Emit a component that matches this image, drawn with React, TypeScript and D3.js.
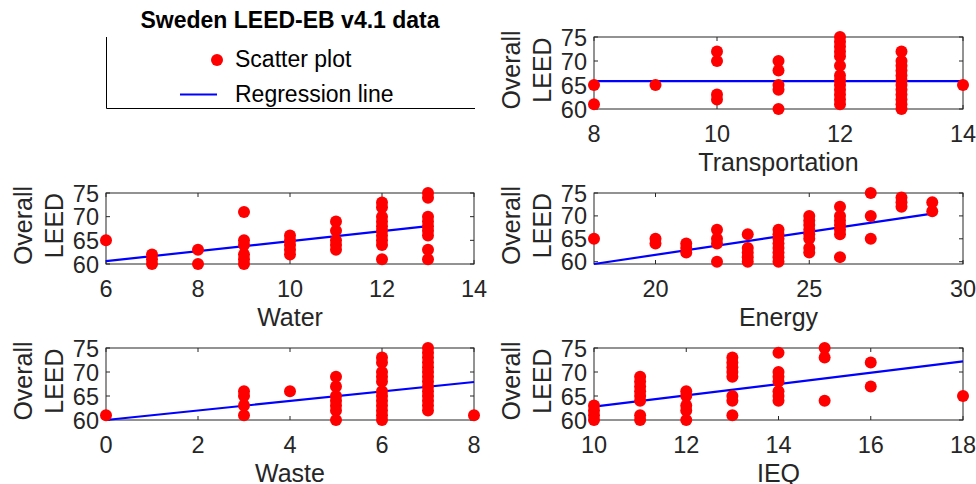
import React from "react";
import * as d3 from "d3";

// ---------- data (x value -> Overall LEED scores at that x) ----------
const transportationData: [number, number[]][] = [
  [8, [65, 61]],
  [9, [65]],
  [10, [72, 70, 63, 62]],
  [11, [70, 68, 65, 64, 60]],
  [12, [75, 74, 73, 72, 71, 69, 67, 66, 65, 64, 63, 62, 61]],
  [13, [72, 70, 69, 68, 67, 66, 65, 64, 63, 62, 61, 60]],
  [14, [65]],
];
const waterData: [number, number[]][] = [
  [6, [65]],
  [7, [62, 61, 60]],
  [8, [63, 60]],
  [9, [71, 65, 64, 62, 61, 60]],
  [10, [66, 65, 64, 63, 62]],
  [11, [69, 67, 65, 64, 63]],
  [12, [73, 72, 70, 69, 68, 67, 66, 65, 64, 61]],
  [13, [75, 74, 70, 69, 68, 67, 66, 63, 61]],
];
const energyData: [number, number[]][] = [
  [18, [65]],
  [20, [65, 64]],
  [21, [64, 63, 62]],
  [22, [67, 65, 64, 60]],
  [23, [66, 63, 62, 61, 60]],
  [24, [67, 66, 65, 64, 63, 62, 61, 60]],
  [25, [70, 69, 68, 67, 66, 65, 63, 62]],
  [26, [72, 70, 69, 68, 67, 66, 61]],
  [27, [75, 70, 65]],
  [28, [74, 73, 72]],
  [29, [73, 71]],
];
const wasteData: [number, number[]][] = [
  [0, [61]],
  [3, [66, 65, 63, 61]],
  [4, [66]],
  [5, [69, 67, 65, 64, 63, 62, 60]],
  [6, [73, 72, 70, 69, 68, 66, 65, 64, 63, 62, 61, 60]],
  [7, [75, 74, 73, 72, 71, 70, 69, 68, 67, 66, 65, 64, 63, 62]],
  [8, [61]],
];
const ieqData: [number, number[]][] = [
  [10, [63, 62, 61, 60]],
  [11, [69, 68, 67, 66, 65, 64, 61, 60]],
  [12, [66, 65, 63, 62, 60]],
  [13, [73, 72, 71, 70, 69, 65, 64, 61]],
  [14, [74, 70, 69, 68, 66, 65, 64]],
  [15, [75, 73, 64]],
  [16, [72, 67]],
  [18, [65]],
];

// regression line coefficients [slope, intercept]
const transportationFit = [0, 65.8];
const waterFit = [1.057, 54.26];
const energyFit = [1.0, 41.5];
const wasteFit = [0.99, 60.0];
const ieqFit = [1.175, 51.05];

// axis settings
const transportationXTicks = [8, 10, 12, 14];
const waterXTicks = [6, 8, 10, 12, 14];
const energyXTicks = [20, 25, 30];
const wasteXTicks = [0, 2, 4, 6, 8];
const ieqXTicks = [10, 12, 14, 16, 18];
const yTicks = [60, 65, 70, 75];

const titleText = "Sweden LEED-EB v4.1 data";
const legendLabels = ["Scatter plot", "Regression line"];
const yLabelLines = ["Overall", "LEED"];

const FONT = '"Liberation Sans", Arial, Helvetica, sans-serif';
const AX = "#262626";
const RED = "#ff0000";
const BLUE = "#0000ff";

type PanelProps = {
  box: [number, number, number, number];
  data: [number, number[]][];
  fit: number[];
  xDomain: [number, number];
  yDomain: [number, number];
  xTicks: number[];
  xLabel: string;
};

function Panel({ box, data, fit, xDomain, yDomain, xTicks, xLabel }: PanelProps) {
  const [x0, x1, y0, y1] = box;
  const x = d3.scaleLinear().domain(xDomain).range([x0, x1]);
  const y = d3.scaleLinear().domain(yDomain).range([y1, y0]);
  const pts = data.flatMap(([xv, ys]) => ys.map((yv) => [xv, yv] as [number, number]));
  const xs = data.map((d) => d[0]);
  const xmin = d3.min(xs)!;
  const xmax = d3.max(xs)!;
  const line = d3.line<number>().x((v) => x(v)).y((v) => y(fit[0] * v + fit[1]));
  const tl = 4;
  const cy = (y0 + y1) / 2 - 3;
  return (
    <g>
      <rect x={x0} y={y0} width={x1 - x0} height={y1 - y0} fill="white" stroke={AX} strokeWidth={1} />
      {xTicks.map((t) => (
        <g key={"x" + t}>
          <line x1={x(t)} x2={x(t)} y1={y1} y2={y1 - tl} stroke={AX} />
          <line x1={x(t)} x2={x(t)} y1={y0} y2={y0 + tl} stroke={AX} />
          <text x={x(t)} y={y1 + 32.5} textAnchor="middle" fontSize={23.5} fill={AX} fontFamily={FONT}>
            {t}
          </text>
        </g>
      ))}
      {yTicks.map((t) => (
        <g key={"y" + t}>
          <line x1={x0} x2={x0 + tl} y1={y(t)} y2={y(t)} stroke={AX} />
          <line x1={x1} x2={x1 - tl} y1={y(t)} y2={y(t)} stroke={AX} />
          <text x={x0 - 7} y={y(t) + 8.5} textAnchor="end" fontSize={23.5} fill={AX} fontFamily={FONT}>
            {t}
          </text>
        </g>
      ))}
      <path d={line([xmin, xmax]) || ""} stroke={BLUE} strokeWidth={2.2} fill="none" />
      {pts.map(([a, b], i) => (
        <circle key={i} cx={x(a)} cy={y(b)} r={6} fill={RED} />
      ))}
      <text x={(x0 + x1) / 2} y={y1 + 62} textAnchor="middle" fontSize={25} fill={AX} fontFamily={FONT}>
        {xLabel}
      </text>
      <text transform={`translate(${x0 - 74},${cy}) rotate(-90)`} textAnchor="middle" fontSize={25} fill={AX} fontFamily={FONT}>
        {yLabelLines[0]}
      </text>
      <text transform={`translate(${x0 - 43},${cy}) rotate(-90)`} textAnchor="middle" fontSize={25} fill={AX} fontFamily={FONT}>
        {yLabelLines[1]}
      </text>
    </g>
  );
}

export default function App() {
  const W = 976;
  const H = 484;
  return (
    <svg width={W} height={H} style={{ position: "absolute", left: 0, top: 0, background: "white" }}>
      <rect x={0} y={0} width={W} height={H} fill="white" />
      {/* legend axes */}
      <text x={290} y={28} textAnchor="middle" fontSize={23} fontWeight="bold" fill="#000" fontFamily={FONT}>
        {titleText}
      </text>
      <line x1={106.5} x2={106.5} y1={37} y2={108.5} stroke="#000" />
      <line x1={106.5} x2={475} y1={108.5} y2={108.5} stroke="#000" />
      <circle cx={217} cy={60} r={6} fill={RED} />
      <text x={235} y={67} fontSize={23} fill="#000" fontFamily={FONT}>
        {legendLabels[0]}
      </text>
      <line x1={180} x2={217} y1={94.5} y2={94.5} stroke={BLUE} strokeWidth={2} />
      <text x={235} y={102} fontSize={23} fill="#000" fontFamily={FONT}>
        {legendLabels[1]}
      </text>

      <Panel box={[594, 963, 37, 109]} data={transportationData} fit={transportationFit} xDomain={[8, 14]} yDomain={[60, 75]} xTicks={transportationXTicks} xLabel="Transportation" />
      <Panel box={[106, 474, 193, 264]} data={waterData} fit={waterFit} xDomain={[6, 14]} yDomain={[60, 75]} xTicks={waterXTicks} xLabel="Water" />
      <Panel box={[594, 963, 193, 264]} data={energyData} fit={energyFit} xDomain={[18, 30]} yDomain={[59.5, 75]} xTicks={energyXTicks} xLabel="Energy" />
      <Panel box={[106, 474, 348, 420]} data={wasteData} fit={wasteFit} xDomain={[0, 8]} yDomain={[60, 75]} xTicks={wasteXTicks} xLabel="Waste" />
      <Panel box={[594, 963, 348, 420]} data={ieqData} fit={ieqFit} xDomain={[10, 18]} yDomain={[60, 75]} xTicks={ieqXTicks} xLabel="IEQ" />
    </svg>
  );
}
